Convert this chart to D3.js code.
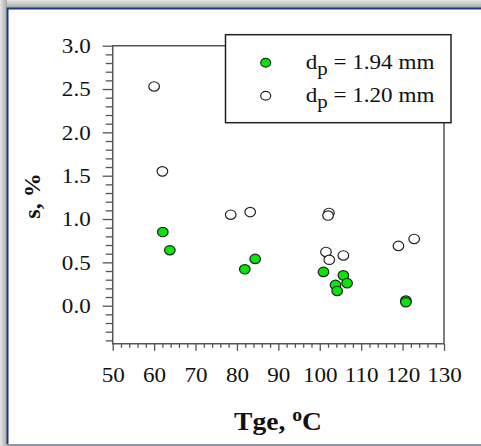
<!DOCTYPE html>
<html>
<head>
<meta charset="utf-8">
<script src="https://cdn.jsdelivr.net/npm/d3@7"></script>
<style>
  body { margin: 0; background: #fff; }
  svg { display: block; font-family: "Liberation Serif", "Times New Roman", serif; }
</style>
</head>
<body>
<svg id="chart" width="481" height="446"></svg>
<script>
// data: gas temperature (oC) vs s (%)
const tGreen = [62.1, 63.8, 81.9, 84.4, 100.9, 105.7, 103.8, 104.2, 106.6, 120.8, 120.8]
const sGreen = [0.85, 0.64, 0.42, 0.54, 0.39, 0.35, 0.24, 0.17, 0.26, 0.06, 0.04]
const tOpen = [60.0, 62.0, 78.5, 83.2, 102.2, 102.0, 101.5, 102.3, 105.7, 119.0, 122.8]
const sOpen = [2.53, 1.55, 1.05, 1.08, 1.07, 1.04, 0.62, 0.53, 0.58, 0.69, 0.77]
const xTicks = [50, 60, 70, 80, 90, 100, 110, 120, 130]
const yTicks = [0.0, 0.5, 1.0, 1.5, 2.0, 2.5, 3.0]
const legendLabels = ['1.94 mm', '1.20 mm']

const svg = d3.select('#chart')
const W = 481, H = 446
const sx = 1.1 // the picture is a bit stretched sideways

// window-like frame around the figure
const defs = svg.append('defs')
const gTop = defs.append('linearGradient').attr('id', 'gtop').attr('x1', 0).attr('y1', 0).attr('x2', 0).attr('y2', 1)
gTop.append('stop').attr('offset', 0).attr('stop-color', '#e6e6e6')
gTop.append('stop').attr('offset', 1).attr('stop-color', '#a8a8a8')
const gLeft = defs.append('linearGradient').attr('id', 'gleft').attr('x1', 0).attr('y1', 0).attr('x2', 1).attr('y2', 0)
gLeft.append('stop').attr('offset', 0).attr('stop-color', '#e6e6e6')
gLeft.append('stop').attr('offset', 1).attr('stop-color', '#a8a8a8')
svg.append('rect').attr('width', W).attr('height', 8).attr('fill', 'url(#gtop)')
svg.append('rect').attr('width', 7).attr('height', H).attr('fill', 'url(#gleft)')
svg.append('rect').attr('x', 7).attr('y', 8).attr('width', W - 7).attr('height', H - 10).attr('fill', '#fff')
svg.append('path').attr('d', `M7.5,${H - 2}V8.5H${W}`).attr('fill', 'none').attr('stroke', '#1d3a78').attr('stroke-width', 2)
svg.append('line').attr('x1', 7).attr('x2', W).attr('y1', H - 1).attr('y2', H - 1).attr('stroke', '#8e95a0').attr('stroke-width', 2)

// plot area
const pLeft = 112.7, pRight = 444, pTop = 45.7
const x = d3.scaleLinear().domain([50, 130]).range([pLeft, pRight])
const y = d3.scaleLinear().domain([0, 3]).range([305.7, pTop])
const yMin = -0.44
const pBottom = y(yMin)

const axisColor = '#555'

// frame
svg.append('path')
  .attr('d', `M${pLeft},${pBottom}V${pTop}H${pRight}V${pBottom}Z`)
  .attr('fill', 'none').attr('stroke', axisColor).attr('stroke-width', 1.5)

// minor ticks
const yMinor = d3.range(-4, 31).map(d => d / 10).filter(d => Math.abs(d * 2 - Math.round(d * 2)) > 1e-6)
svg.append('g').attr('transform', `translate(${pLeft},0)`)
  .call(d3.axisLeft(y).tickValues(yMinor).tickSize(7).tickFormat(''))
  .call(g => g.select('.domain').remove())
  .selectAll('line').attr('stroke', axisColor).attr('stroke-width', 1.3)
const xMinor = d3.range(50, 131, 2).filter(d => d % 10 !== 0)
svg.append('g').attr('transform', `translate(0,${pBottom})`)
  .call(d3.axisBottom(x).tickValues(xMinor).tickSize(4).tickFormat(''))
  .call(g => g.select('.domain').remove())
  .selectAll('line').attr('stroke', axisColor).attr('stroke-width', 1.3)

// major ticks and labels
const yAxis = svg.append('g').attr('transform', `translate(${pLeft},0)`)
  .call(d3.axisLeft(y).tickValues(yTicks).tickSize(10).tickPadding(10).tickFormat(d3.format('.1f')))
yAxis.select('.domain').remove()
yAxis.selectAll('line').attr('stroke', axisColor).attr('stroke-width', 1.3)
yAxis.selectAll('text').attr('fill', '#111').attr('font-size', 21)
  .attr('font-family', '"Liberation Serif", serif')
  .attr('transform', `scale(${sx},1)`)

const xAxis = svg.append('g').attr('transform', `translate(0,${pBottom})`)
  .call(d3.axisBottom(x).tickValues(xTicks).tickSize(7).tickPadding(16))
xAxis.select('.domain').remove()
xAxis.selectAll('line').attr('stroke', axisColor).attr('stroke-width', 1.3)
xAxis.selectAll('text').attr('fill', '#111').attr('font-size', 21)
  .attr('font-family', '"Liberation Serif", serif')
  .attr('transform', `scale(${sx},1)`)

// axis titles
const xt = svg.append('text')
  .attr('transform', `translate(278,430) scale(${sx},1)`)
  .attr('text-anchor', 'middle').attr('font-weight', 'bold').attr('font-size', 25).attr('fill', '#111')
xt.append('tspan').text('Tge, ')
xt.append('tspan').attr('font-size', 18).attr('dy', -9).text('o')
xt.append('tspan').attr('dy', 9).text('C')

svg.append('text')
  .attr('transform', 'translate(39.5,196) rotate(-90)')
  .attr('text-anchor', 'middle').attr('font-weight', 'bold').attr('font-size', 24).attr('fill', '#111')
  .text('s, %')

// points
const greenPts = tGreen.map((t, i) => [t, sGreen[i]])
const openPts = tOpen.map((t, i) => [t, sOpen[i]])

svg.append('g').selectAll('ellipse').data(openPts).join('ellipse')
  .attr('cx', d => x(d[0])).attr('cy', d => y(d[1]))
  .attr('rx', 5.3).attr('ry', 4.7)
  .attr('fill', '#fff').attr('stroke', '#222').attr('stroke-width', 1.2)

svg.append('g').selectAll('ellipse').data(greenPts).join('ellipse')
  .attr('cx', d => x(d[0])).attr('cy', d => y(d[1]))
  .attr('rx', 5.3).attr('ry', 4.7)
  .attr('fill', '#08e608').attr('stroke', '#222').attr('stroke-width', 1.2)

// legend
const lg = svg.append('g')
lg.append('rect').attr('x', 225.5).attr('y', 34.7).attr('width', 225.5).attr('height', 88)
  .attr('fill', '#fff').attr('stroke', '#222').attr('stroke-width', 1.5)
const fills = ['#08e608', '#fff']
legendLabels.forEach((lab, i) => {
  const cy = 62.7 + i * 33
  lg.append('ellipse').attr('cx', 265.7).attr('cy', cy).attr('rx', 5).attr('ry', 4.4)
    .attr('fill', fills[i]).attr('stroke', '#222').attr('stroke-width', 1.2)
  const t = lg.append('text')
    .attr('transform', `translate(305.7,${cy + 6}) scale(${sx},1)`)
    .attr('font-size', 21).attr('fill', '#111')
  t.append('tspan').text('d')
  t.append('tspan').attr('font-size', 19).attr('dy', 6).text('p')
  t.append('tspan').attr('dy', -6).text(' = ' + lab)
})
</script>
</body>
</html>
